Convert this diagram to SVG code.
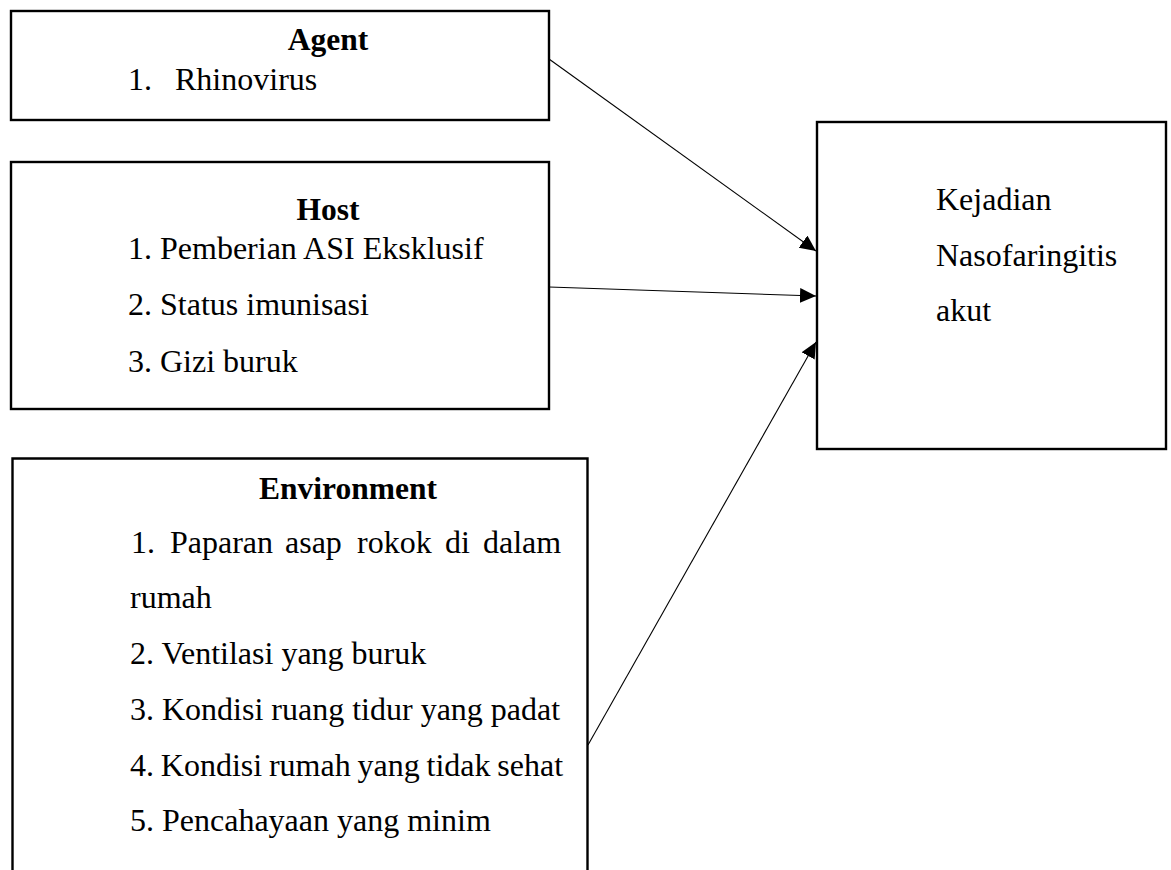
<svg xmlns="http://www.w3.org/2000/svg" width="1171" height="870" viewBox="0 0 1171 870">
<style>
.box{fill:#fff;stroke:#000;stroke-width:2.4}
.t{font-family:"Liberation Serif","Times New Roman",serif;font-size:32px;fill:#000}
.b{font-weight:bold;text-anchor:middle;font-size:31.5px}
.c{stroke:#000;stroke-width:1.1;fill:none;marker-end:url(#ah)}
</style>
<defs>
<marker id="ah" markerUnits="userSpaceOnUse" markerWidth="18" markerHeight="16" refX="16" refY="7.5" orient="auto">
<path d="M0,0 L16,7.5 L0,15 Z" fill="#000"/>
</marker>
</defs>
<rect width="1171" height="870" fill="#fff"/>
<g id="agent">
<rect class="box" x="11" y="11" width="538" height="109"/>
<text class="t b" x="328" y="50">Agent</text>
<text class="t" x="128" y="90">1.<tspan x="175">Rhinovirus</tspan></text>
</g>
<g id="host">
<rect class="box" x="11" y="162" width="538" height="247"/>
<text class="t b" x="328" y="220">Host</text>
<text class="t" x="128" y="259">1. Pemberian ASI Eksklusif</text>
<text class="t" x="128" y="315">2. Status imunisasi</text>
<text class="t" x="128" y="372">3. Gizi buruk</text>
</g>
<g id="environment">
<path class="box" d="M12.5,880 V458.5 H587.5 V880"/>
<text class="t b" x="348" y="499">Environment</text>
<text class="t" x="131" y="553">1.<tspan x="170">Paparan</tspan><tspan x="285">asap</tspan><tspan x="357">rokok</tspan><tspan x="445">di</tspan><tspan x="483">dalam</tspan></text>
<text class="t" x="130" y="608">rumah</text>
<text class="t" x="130" y="664">2. Ventilasi yang buruk</text>
<text class="t" x="130" y="720">3. Kondisi ruang tidur yang padat</text>
<text class="t" x="130" y="776" word-spacing="-1.2">4. Kondisi rumah yang tidak sehat</text>
<text class="t" x="130" y="831">5. Pencahayaan yang minim</text>
</g>
<g id="outcome">
<rect class="box" x="817" y="122" width="349" height="327"/>
<text class="t" x="936" y="210">Kejadian</text>
<text class="t" x="936" y="266">Nasofaringitis</text>
<text class="t" x="936" y="321">akut</text>
</g>
<g id="connectors">
<line class="c" x1="549" y1="59" x2="816" y2="251"/>
<line class="c" x1="549" y1="287" x2="816" y2="296"/>
<line class="c" x1="588" y1="745" x2="816" y2="342"/>
</g>
</svg>
